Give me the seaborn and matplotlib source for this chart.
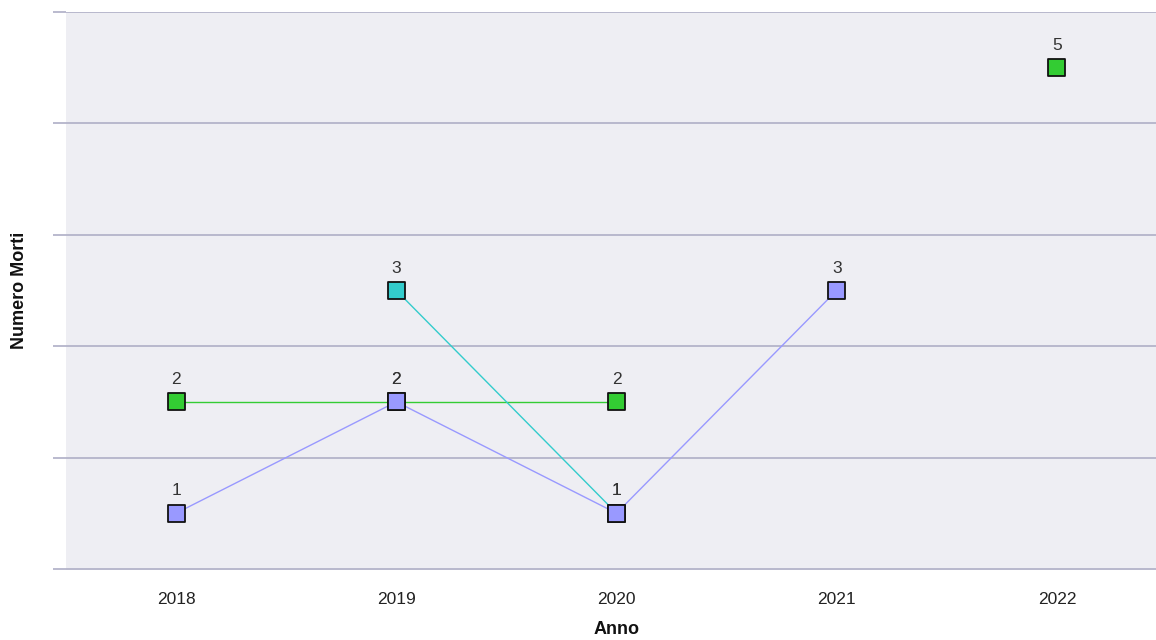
import numpy as np
import pandas as pd
import seaborn as sns
import matplotlib.pyplot as plt

# valori (NaN = anno senza dato)
anni = [2018, 2019, 2020, 2021, 2022]
serie_verde = [2, 2, 2, np.nan, 5]
serie_ciano = [np.nan, 3, 1, np.nan, np.nan]
serie_lilla = [1, 2, 1, 3, np.nan]

nomi = ["Serie 1", "Serie 2", "Serie 3"]
colori = {"Serie 1": "#33CC33", "Serie 2": "#33CCCC", "Serie 3": "#9999FF"}

# Build long dataframe, with a segment id so gaps are not bridged
frames = []
for nome, valori in zip(nomi, [serie_verde, serie_ciano, serie_lilla]):
    d = pd.DataFrame({"Anno": anni, "Morti": valori, "serie": nome})
    d["segmento"] = d["Morti"].isna().cumsum()
    frames.append(d.dropna())
df = pd.concat(frames, ignore_index=True)
df["unita"] = df["serie"] + "_" + df["segmento"].astype(str)

sns.set_style("white", {"axes.facecolor": "#EEEEF3"})
plt.rcParams["font.family"] = ["Liberation Sans", "DejaVu Sans"]

fig = plt.figure(figsize=(11.56, 6.4), dpi=100)
ax = fig.add_axes([66 / 1156, 1 - 570 / 640, 1101 / 1156, 558 / 640])

sns.lineplot(data=df, x="Anno", y="Morti", hue="serie", units="unita",
             estimator=None, palette=colori, hue_order=nomi,
             linewidth=1, legend=False, ax=ax, zorder=2)
sns.scatterplot(data=df, x="Anno", y="Morti", hue="serie", palette=colori,
                hue_order=nomi, marker="s", s=150, edgecolor="#111111",
                linewidth=1.3, legend=False, ax=ax, zorder=3)

for _, r in df.iterrows():
    ax.annotate(f"{int(r['Morti'])}", (r["Anno"], r["Morti"]),
                xytext=(0, 16), textcoords="offset points",
                ha="center", va="center", fontsize=12.5, color="#333333")

ax.set_xlim(2017.5, 2022.5)
ax.set_ylim(0.49, 5.5)
ax.set_xticks(anni)
ax.set_xticklabels([str(a) for a in anni])
ax.set_yticks(np.arange(0.5, 6, 1))
ax.set_yticklabels([])
ax.grid(axis="y", color="#B4B4CA", linewidth=1.3)
ax.tick_params(axis="y", left=True, length=9.4, width=1.3, color="#B4B4CA")
ax.tick_params(axis="x", bottom=False, pad=12, labelsize=12.5, labelcolor="#222222")
for s in ax.spines.values():
    s.set_visible(False)

ax.set_xlabel("Anno", fontsize=13, fontweight="bold", color="#111111")
ax.set_ylabel("Numero Morti", fontsize=13, fontweight="bold", color="#111111")
ax.xaxis.set_label_coords(0.5, -0.0914)
ax.yaxis.set_label_coords(-0.0345, 0.502)

fig.savefig("out.png", dpi=100)
